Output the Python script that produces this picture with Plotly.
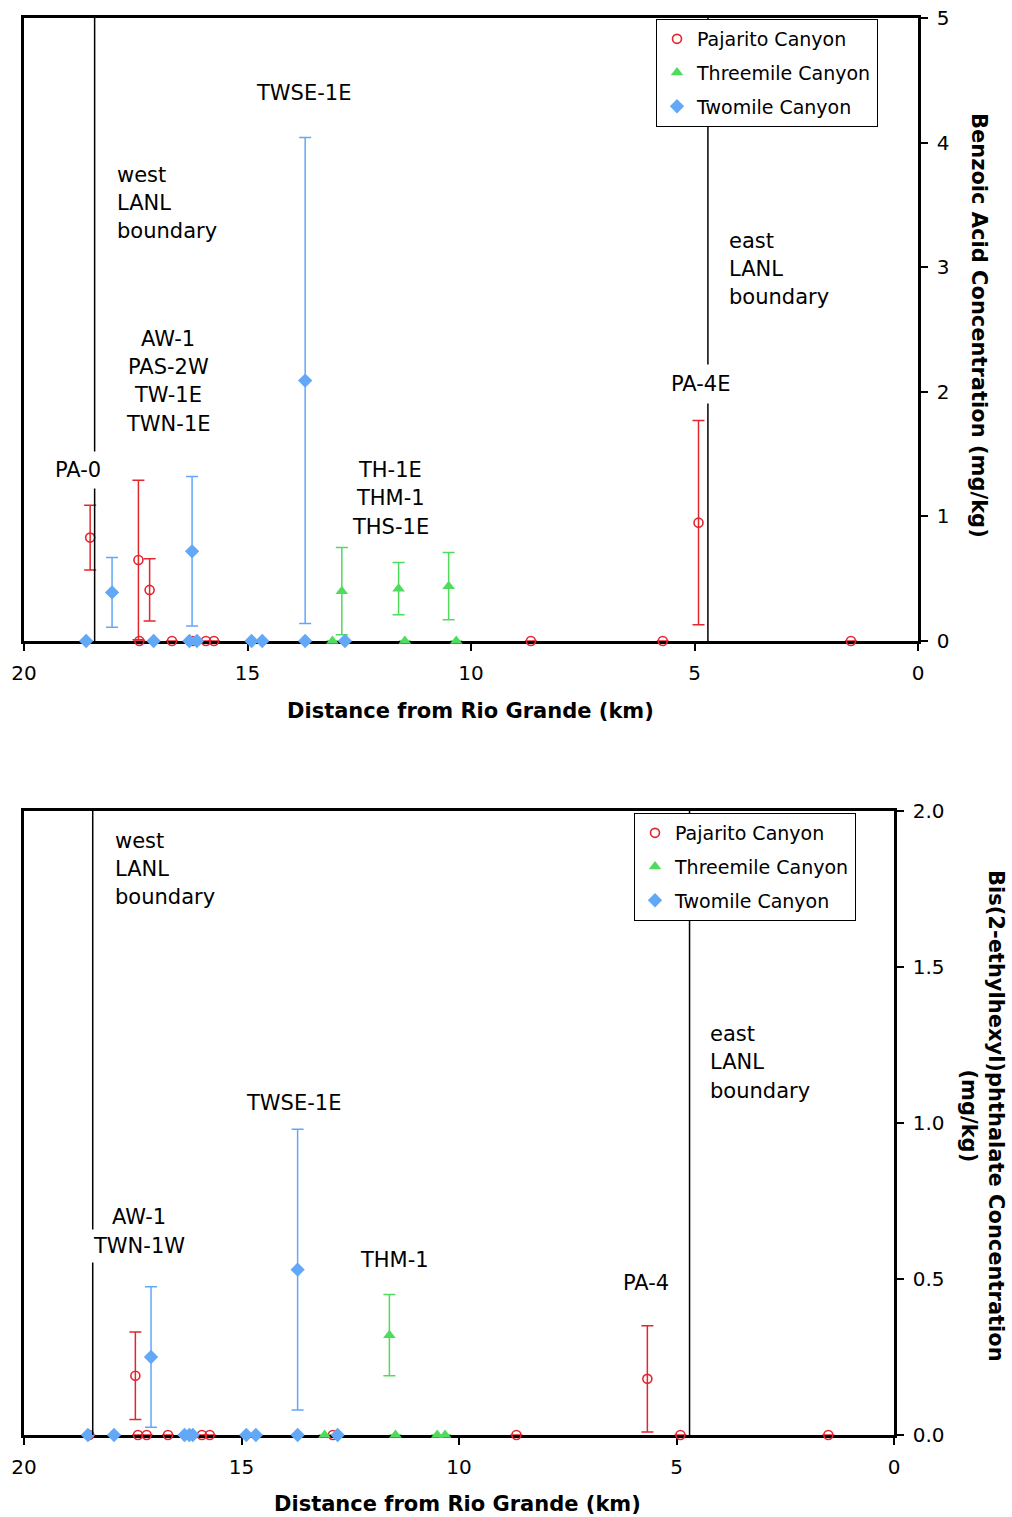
import plotly.graph_objects as go

W, H = 1012, 1517
FONT = "Verdana, DejaVu Sans, sans-serif"
RED = "#E2262E"
GREEN = "#4FDB5E"
BLUE = "#62A8F7"

# ---------------- Data: Benzoic acid (top chart) ----------------
pajarito_km_a = [18.52, 17.44, 17.19, 17.42, 16.69, 16.23, 15.93, 15.75, 8.66, 5.71, 4.91, 1.50]
pajarito_val_a = [0.83, 0.65, 0.41, 0, 0, 0, 0, 0, 0, 0, 0.95, 0]
pajarito_err_a = [0.26, 0.64, 0.25, None, None, None, None, None, None, None, 0.82, None]

threemile_km_a = [13.10, 12.89, 11.62, 11.48, 10.50, 10.33]
threemile_val_a = [0, 0.40, 0.42, 0, 0.44, 0]
threemile_err_a = [None, 0.35, 0.21, None, 0.27, None]

twomile_km_a = [18.61, 18.03, 17.10, 16.30, 16.24, 16.13, 14.91, 14.67, 13.71, 13.71, 12.82]
twomile_val_a = [0, 0.39, 0, 0, 0.72, 0, 0, 0, 2.09, 0, 0]
twomile_err_a = [None, 0.28, None, None, 0.60, None, None, None, 1.95, None, None]

# ---------------- Data: Bis(2-ethylhexyl)phthalate (bottom chart) ----------------
pajarito_km_b = [18.50, 17.44, 17.38, 17.18, 16.69, 15.91, 15.73, 12.90, 8.68, 5.67, 4.91, 1.51]
pajarito_val_b = [0, 0.19, 0, 0, 0, 0, 0, 0, 0, 0.18, 0, 0]
pajarito_err_b = [None, 0.14, None, None, None, None, None, None, None, 0.17, None, None]

threemile_km_b = [13.09, 11.60, 11.46, 10.50, 10.32]
threemile_val_b = [0, 0.32, 0, 0, 0]
threemile_err_b = [None, 0.13, None, None, None]

twomile_km_b = [18.53, 17.93, 17.08, 16.31, 16.20, 16.12, 14.89, 14.67, 13.71, 13.71, 12.79]
twomile_val_b = [0, 0, 0.25, 0, 0, 0, 0, 0, 0.53, 0, 0]
twomile_err_b = [None, None, 0.225, None, None, None, None, None, 0.45, None, None]

x_ticks = [20, 15, 10, 5, 0]
y_ticks_a = [0, 1, 2, 3, 4, 5]
y_ticks_b = [0.0, 0.5, 1.0, 1.5, 2.0]

WEST_BOUNDARY_KM = 18.42
EAST_BOUNDARY_KM = 4.70


def px(x):
    return x / W


def py(y):
    return 1 - y / H


fig = go.Figure()

series = [
    ("Pajarito Canyon", "circle-open", RED, 9, 1.6),
    ("Threemile Canyon", "triangle-up", GREEN, 11, 0),
    ("Twomile Canyon", "diamond", BLUE, 11, 0),
]

data_a = [(pajarito_km_a, pajarito_val_a, pajarito_err_a),
          (threemile_km_a, threemile_val_a, threemile_err_a),
          (twomile_km_a, twomile_val_a, twomile_err_a)]
data_b = [(pajarito_km_b, pajarito_val_b, pajarito_err_b),
          (threemile_km_b, threemile_val_b, threemile_err_b),
          (twomile_km_b, twomile_val_b, twomile_err_b)]


def marker_for(sym, col, size, lw):
    if sym == "circle-open":
        return dict(symbol=sym, color=col, size=size, line=dict(color=col, width=lw))
    return dict(symbol=sym, color=col, size=size, line=dict(width=0))


for suffix, xr, yr, leg, data in (("a", "x", "y", "legend", data_a), ("b", "x2", "y2", "legend2", data_b)):
    for (name, sym, col, size, lw), (xs, ys, es) in zip(series, data):
        fig.add_trace(go.Scatter(
            x=xs, y=ys, mode="markers", name=name, xaxis=xr, yaxis=yr,
            legend=leg, legendgroup=name + suffix, cliponaxis=False,
            marker=marker_for(sym, col, size, lw),
            error_y=dict(type="data", array=es, visible=True, color=col, thickness=1.5, width=6),
        ))

axis_common = dict(showgrid=False, zeroline=False, showline=True, linecolor="black",
                   mirror=True, ticks="outside", ticklen=7, tickwidth=1.5, tickcolor="black",
                   automargin=False,
                   tickfont=dict(family=FONT, size=20, color="black"))

xa = dict(axis_common, range=[20, 0], tickvals=x_ticks, linewidth=3, layer="below traces",
          ticklabelstandoff=5)
ya = dict(axis_common, side="right", linewidth=2.5, ticklabelstandoff=5, layer="below traces")

fig.update_layout(
    width=W, height=H, autosize=False,
    margin=dict(l=0, r=0, t=0, b=0, pad=0),
    paper_bgcolor="white", plot_bgcolor="white",
    font=dict(family=FONT, color="black"),
    xaxis=dict(xa, domain=[px(24), px(918)], anchor="y"),
    yaxis=dict(ya, domain=[py(641), py(18)], anchor="x", range=[0, 5], tickvals=y_ticks_a),
    xaxis2=dict(xa, domain=[px(24), px(894)], anchor="y2"),
    yaxis2=dict(ya, domain=[py(1435), py(811)], anchor="x2", range=[0, 2],
                tickvals=y_ticks_b, tickformat=".1f"),
    legend=dict(x=px(656), y=py(19), xanchor="left", yanchor="top", bgcolor="white",
                bordercolor="black", borderwidth=1, font=dict(family=FONT, size=19),
                tracegroupgap=6, itemwidth=30),
    legend2=dict(x=px(634), y=py(813), xanchor="left", yanchor="top", bgcolor="white",
                 bordercolor="black", borderwidth=1, font=dict(family=FONT, size=19),
                 tracegroupgap=6, itemwidth=30),
)

# boundary lines
for xr, yr in (("x", "y"), ("x2", "y2")):
    for xb in (WEST_BOUNDARY_KM, EAST_BOUNDARY_KM):
        fig.add_shape(type="line", xref=xr, yref=yr + " domain", x0=xb, x1=xb, y0=0, y1=1,
                      line=dict(color="black", width=1.5), layer="above")

labels = [
    # top chart
    ("TWSE-1E", 303, 93, "center", 0),
    ("west", 115, 175, "left", 0), ("LANL", 115, 203, "left", 0), ("boundary", 115, 231, "left", 0),
    ("AW-1", 168, 339, "center", 0), ("PAS-2W", 168, 367, "center", 0),
    ("TW-1E", 168, 395, "center", 0), ("TWN-1E", 168, 424, "center", 0),
    ("PA-0", 78, 470, "center", 6),
    ("TH-1E", 390, 470, "center", 0), ("THM-1", 390, 498, "center", 0), ("THS-1E", 390, 527, "center", 0),
    ("east", 727, 241, "left", 0), ("LANL", 727, 269, "left", 0), ("boundary", 727, 297, "left", 0),
    ("PA-4E", 700, 384, "center", 7),
    # bottom chart
    ("west", 113, 841, "left", 0), ("LANL", 113, 869, "left", 0), ("boundary", 113, 897, "left", 0),
    ("TWSE-1E", 293, 1103, "center", 0),
    ("AW-1", 139, 1217, "center", 4), ("TWN-1W", 139, 1246, "center", 4),
    ("THM-1", 394, 1260, "center", 0),
    ("PA-4", 646, 1283, "center", 0),
    ("east", 708, 1034, "left", 0), ("LANL", 708, 1062, "left", 0), ("boundary", 708, 1091, "left", 0),
]
for text, x, y, anchor, pad in labels:
    fig.add_annotation(text=text, x=px(x), y=py(y), xref="paper", yref="paper",
                       xanchor=anchor, yanchor="middle", showarrow=False,
                       font=dict(family=FONT, size=21, color="black"),
                       bgcolor="white" if pad else None, borderpad=pad if pad else 1)

titles = [
    ("<b>Distance from Rio Grande (km)</b>", 470, 711, 0),
    ("<b>Distance from Rio Grande (km)</b>", 457, 1504, 0),
    ("<b>Benzoic Acid Concentration (mg/kg)</b>", 979, 325, 90),
    ("<b>Bis(2-ethylhexyl)phthalate Concentration<br>(mg/kg)</b>", 983, 1116, 90),
]
for text, x, y, ang in titles:
    fig.add_annotation(text=text, x=px(x), y=py(y), xref="paper", yref="paper",
                       xanchor="center", yanchor="middle", showarrow=False, textangle=ang,
                       font=dict(family=FONT, size=21, color="black"))

fig.write_html("out.html", config={"displayModeBar": False},
               post_script="document.body.style.margin='0px';document.body.style.padding='0px';")
